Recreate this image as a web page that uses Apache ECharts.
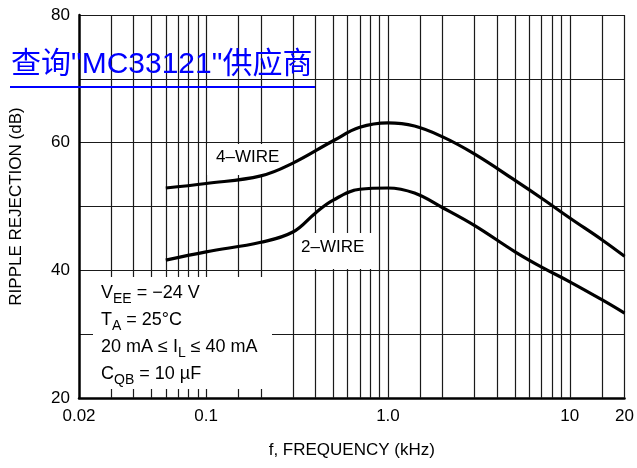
<!DOCTYPE html>
<html>
<head>
<meta charset="utf-8">
<script src="https://cdn.jsdelivr.net/npm/echarts@6/dist/echarts.min.js"></script>
<style>
  html, body { margin: 0; padding: 0; background: #fff; }
  #chart { width: 637px; height: 468px; }
</style>
</head>
<body>
<div id="chart"></div>
<script>
// 4-WIRE 曲线 (kHz / dB)
var freq4 = [0.06, 0.1, 0.2, 0.3, 0.5, 0.7, 1.0, 1.4, 2, 3, 5, 7, 10, 15, 20];
var wire4 = [52.9, 53.6, 54.8, 56.8, 60.3, 62.4, 63.1, 62.6, 60.9, 58.2, 54.1, 51.3, 48.2, 44.8, 42.2];
// 2-WIRE 曲线
var freq2 = [0.06, 0.1, 0.2, 0.3, 0.4, 0.5, 0.7, 1.0, 1.4, 2, 3, 5, 7, 10, 15, 20];
var wire2 = [41.6, 42.9, 44.4, 46.0, 49.0, 51.0, 52.7, 52.9, 52.1, 49.8, 47.0, 42.9, 40.5, 38.2, 35.4, 33.3];
// 竖向网格线
var gridX = [0.03, 0.04, 0.05, 0.06, 0.07, 0.08, 0.09, 0.1, 0.15, 0.2, 0.3, 0.4, 0.5, 0.6, 0.7, 0.8, 0.9, 1, 1.5, 2, 3, 4, 5, 6, 7, 8, 9, 10, 15, 20];
var yTicks = [20, 40, 60, 80];

var font = "'Liberation Sans', Arial, sans-serif";

function toPairs(xs, ys) {
  return xs.map(function(x, i) { return [x, ys[i]]; });
}

var chart = echarts.init(document.getElementById("chart"));

var option = {
  animation: false,
  grid: { left: 79, right: 12, top: 15, bottom: 70 },
  xAxis: {
    type: "log",
    logBase: 10,
    min: 0.02,
    max: 20,
    name: "f, FREQUENCY (kHz)",
    nameLocation: "middle",
    nameGap: 44,
    nameTextStyle: { color: "#000", fontSize: 17, fontFamily: font },
    axisLine: { onZero: false, lineStyle: { color: "#000", width: 2.5 } },
    axisTick: { show: false },
    axisLabel: {
      color: "#000", fontSize: 17, fontFamily: font, margin: 10,
      formatter: function(v) {
        var r = +v.toPrecision(3);
        return r === 1 ? "1.0" : String(r);
      }
    },
    splitLine: { show: false },
    minorSplitLine: { show: false }
  },
  yAxis: {
    type: "value",
    min: 20,
    max: 80,
    interval: 10,
    name: "RIPPLE REJECTION (dB)",
    nameLocation: "middle",
    nameGap: 54,
    nameTextStyle: { color: "#000", fontSize: 17, fontFamily: font },
    axisLine: { show: true, onZero: false, lineStyle: { color: "#000", width: 2.5 } },
    axisTick: { show: false },
    axisLabel: {
      color: "#000", fontSize: 17, fontFamily: font, margin: 9,
      formatter: function(v) { return yTicks.indexOf(v) >= 0 ? String(v) : ""; }
    },
    splitLine: { show: true, lineStyle: { color: "#1a1a1a", width: 1.2 } }
  },
  graphic: [
    // 注释框 / 标签底色
    { type: "rect", z: 3, shape: { x: 93, y: 277, width: 179, height: 112 }, style: { fill: "#fff" } },
    { type: "rect", z: 3, shape: { x: 207, y: 144, width: 83, height: 31 }, style: { fill: "#fff" } },
    { type: "rect", z: 3, shape: { x: 296, y: 233, width: 76, height: 36 }, style: { fill: "#fff" } },
    { type: "text", z: 4, left: 216, top: 149, style: { text: "4–WIRE", fill: "#000", font: "17px " + font } },
    { type: "text", z: 4, left: 301, top: 239, style: { text: "2–WIRE", fill: "#000", font: "17px " + font } },
    {
      type: "text", z: 4, left: 101, top: 280,
      style: {
        text: "V{s|EE} = −24 V\nT{s|A} = 25°C\n20 mA ≤ I{s|L} ≤ 40 mA\nC{s|QB} = 10 µF",
        fill: "#000",
        font: "18px " + font,
        lineHeight: 27,
        rich: {
          s: { fontSize: 14, fontFamily: font, fill: "#000", lineHeight: 14, padding: [12, 0, 0, 0] }
        }
      }
    },
    // 水印
    {
      type: "text", z: 6, left: 11, top: 50,
      style: { text: "查询\"MC33121\"供应商", fill: "#0000ff", font: "30px 'Liberation Sans', 'Noto Sans CJK SC', sans-serif" }
    },
    { type: "line", z: 6, shape: { x1: 10, y1: 87, x2: 315, y2: 87 }, style: { stroke: "#0000ff", lineWidth: 2 } }
  ],
  series: [
    {
      type: "line",
      z: 1,
      data: [],
      markLine: {
        z: 1,
        silent: true,
        symbol: "none",
        label: { show: false },
        lineStyle: { color: "#1a1a1a", width: 1.2, type: "solid" },
        data: gridX.map(function(v) { return { xAxis: v }; })
      }
    },
    {
      name: "4-WIRE",
      type: "line",
      z: 5,
      smooth: 0.4,
      showSymbol: false,
      lineStyle: { color: "#000", width: 3.2 },
      data: toPairs(freq4, wire4)
    },
    {
      name: "2-WIRE",
      type: "line",
      z: 5,
      smooth: 0.4,
      showSymbol: false,
      lineStyle: { color: "#000", width: 3.2 },
      data: toPairs(freq2, wire2)
    }
  ]
};

chart.setOption(option);
</script>
</body>
</html>
